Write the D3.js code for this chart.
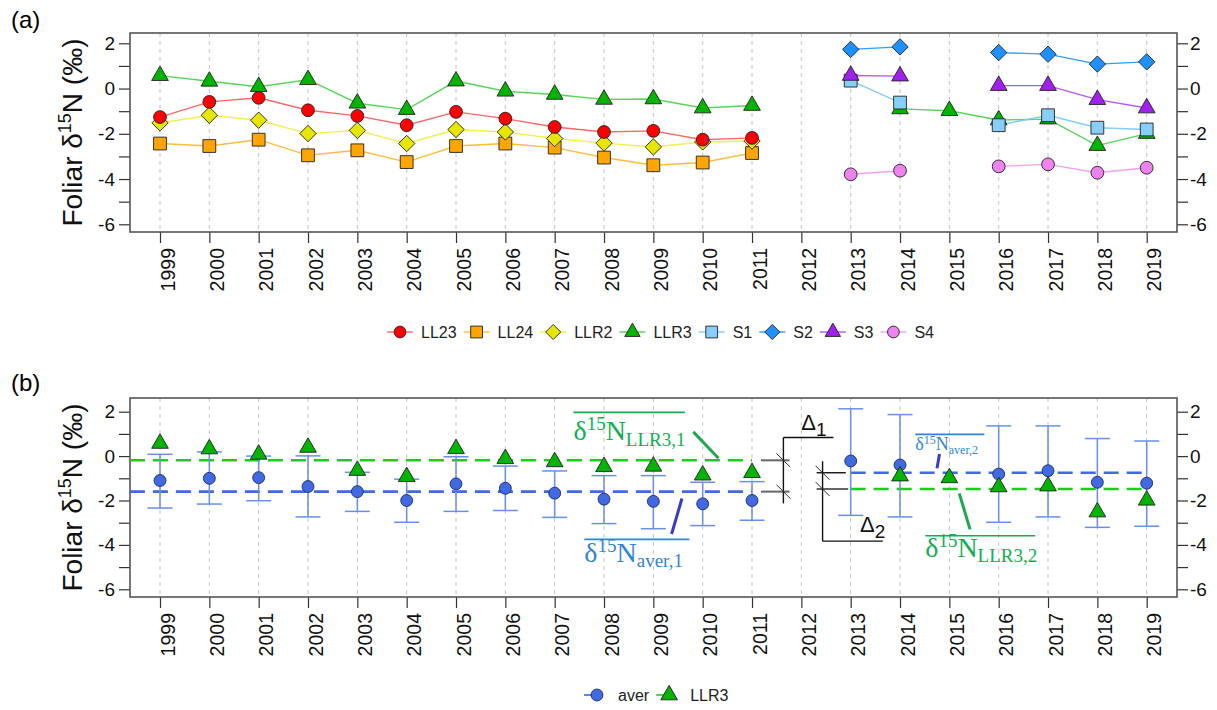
<!DOCTYPE html>
<html>
<head>
<meta charset="utf-8">
<script src="https://cdn.jsdelivr.net/npm/d3@7/dist/d3.min.js"></script>
<style>
  html, body { margin: 0; padding: 0; background: #fff; }
  svg { display: block; font-family: "Liberation Sans", Arial, sans-serif; }
</style>
</head>
<body>
<svg id="chart" width="1217" height="710"></svg>
<script>
// ---------------- DATA ----------------
const years = [1999,2000,2001,2002,2003,2004,2005,2006,2007,2008,2009,2010,2011,2012,2013,2014,2015,2016,2017,2018,2019];
const yTicksLabelled = [2, 0, -2, -4, -6];
const yTicksAll = [2, 1, 0, -1, -2, -3, -4, -5, -6];

const LL23 = [-1.26,-0.59,-0.41,-0.96,-1.21,-1.62,-1.03,-1.33,-1.70,-1.92,-1.87,-2.26,-2.18,null,null,null,null,null,null,null,null];
const LL24 = [-2.43,-2.54,-2.26,-2.95,-2.73,-3.25,-2.54,-2.43,-2.61,-3.05,-3.39,-3.27,-2.85,null,null,null,null,null,null,null,null];
const LLR2 = [-1.52,-1.18,-1.40,-1.99,-1.85,-2.43,-1.81,-1.92,-2.21,-2.41,-2.58,-2.36,-2.32,null,null,null,null,null,null,null,null];
const LLR3 = [0.57,0.32,0.08,0.39,-0.65,-0.93,0.33,-0.12,-0.26,-0.48,-0.46,-0.86,-0.75,null,null,-0.90,-0.98,-1.39,-1.35,-2.52,-1.99];
const S1   = [null,null,null,null,null,null,null,null,null,null,null,null,null,null,0.35,-0.62,null,-1.62,-1.18,-1.73,-1.81];
const S2   = [null,null,null,null,null,null,null,null,null,null,null,null,null,null,1.73,1.84,null,1.59,1.52,1.08,1.18];
const S3   = [null,null,null,null,null,null,null,null,null,null,null,null,null,null,0.58,0.55,null,0.13,0.13,-0.49,-0.86];
const S4   = [null,null,null,null,null,null,null,null,null,null,null,null,null,null,-3.79,-3.63,null,-3.44,-3.35,-3.72,-3.50];

const aver   = [-1.10,-1.00,-0.97,-1.37,-1.60,-2.00,-1.25,-1.45,-1.67,-1.94,-2.04,-2.15,-2.00,null,-0.22,-0.40,null,-0.81,-0.66,-1.18,-1.22];
const averHi = [0.08,0.19,0.00,0.01,-0.73,-1.04,-0.03,-0.45,-0.67,-0.88,-0.88,-1.18,-1.15,null,2.13,1.87,null,1.36,1.36,0.79,0.68];
const averLo = [-2.34,-2.16,-2.01,-2.74,-2.49,-2.98,-2.49,-2.45,-2.76,-3.04,-3.27,-3.13,-2.89,null,-2.67,-2.74,null,-2.98,-2.74,-3.21,-3.16];

// period means: [name, startYear, endYear, value]
const meanNames  = ["LLR3,1", "aver,1", "aver,2", "LLR3,2"];
const meanStart  = [1998.39, 1998.39, 2013, 2013];
const meanEnd    = [2011, 2011, 2019, 2019];
const meanValues = [-0.19, -1.60, -0.75, -1.48];

// ---------------- STYLE / LAYOUT ----------------
const seriesA = [
  {name:"LL24", data:LL24, fill:"#FFA500", line:"rgba(255,165,0,0.75)", shape:"square"},
  {name:"LLR2", data:LLR2, fill:"#E6E600", line:"rgba(235,235,0,0.7)", shape:"diamond"},
  {name:"LL23", data:LL23, fill:"#FF0000", line:"rgba(255,40,40,0.7)", shape:"circle"},
  {name:"LLR3", data:LLR3, fill:"#00B400", line:"rgba(30,200,30,0.75)", shape:"triangle"},
  {name:"S4",   data:S4,   fill:"#EE82EE", line:"rgba(238,130,238,0.75)", shape:"circle"},
  {name:"S2",   data:S2,   fill:"#1E90FF", line:"rgba(30,144,255,0.9)", shape:"diamond"},
  {name:"S1",   data:S1,   fill:"#87CEFA", line:"rgba(120,200,250,0.9)", shape:"square"},
  {name:"S3",   data:S3,   fill:"#A020F0", line:"rgba(160,32,240,0.75)", shape:"triangle"}
];
const legendOrderA = ["LL23","LL24","LLR2","LLR3","S1","S2","S3","S4"];

const svg = d3.select("#chart");
const FONT = '"Liberation Sans", Arial, sans-serif';
const SERIF = '"Liberation Serif", "DejaVu Serif", serif';

function shapePath(shape, s) {
  s = s || 1;
  if (shape === "circle") { const r = 6.4*s; return `M${-r},0A${r},${r} 0 1,0 ${r},0A${r},${r} 0 1,0 ${-r},0Z`; }
  if (shape === "square") { const h = 6.4*s; return `M${-h},${-h}H${h}V${h}H${-h}Z`; }
  if (shape === "diamond") { const h = 8.2*s; return `M0,${-h}L${h},0L0,${h}L${-h},0Z`; }
  if (shape === "triangle") { const R = 6.2*s; return `M0,${-1.555*R}L${1.347*R},${0.778*R}L${-1.347*R},${0.778*R}Z`; }
}

function makePanel(top, bottom, tick2y, tickm6y) {
  const x = d3.scaleLinear().domain([1999, 2019]).range([160, 1146.7]);
  const y = d3.scaleLinear().domain([-6, 2]).range([tickm6y, tick2y]);
  const left = 130, right = 1177;
  const g = svg.append("g");
  // grid
  g.selectAll(".grid").data(years).enter().append("line")
    .attr("x1", d => x(d)).attr("x2", d => x(d)).attr("y1", top).attr("y2", bottom)
    .attr("stroke", "#C4C4C4").attr("stroke-width", 1).attr("stroke-dasharray", "4,4");
  // bottom axis
  const xa = g.append("g").attr("transform", `translate(0,${bottom})`)
    .call(d3.axisBottom(x).tickValues(years).tickFormat(d3.format("d")).tickSize(11).tickSizeOuter(0));
  xa.select(".domain").remove();
  xa.selectAll(".tick line").attr("stroke", "#333").attr("stroke-width", 1.2);
  xa.selectAll(".tick text").attr("font-size", 19.5).attr("font-family", FONT).attr("fill", "#111")
    .attr("text-anchor", "end").attr("dy", null).attr("y", null)
    .attr("transform", "translate(14,16) rotate(-90)");
  // left axis
  const ya = g.append("g").attr("transform", `translate(${left},0)`)
    .call(d3.axisLeft(y).tickValues(yTicksAll).tickSize(11).tickSizeOuter(0)
      .tickFormat(d => yTicksLabelled.includes(d) ? String(d) : ""));
  ya.select(".domain").remove();
  ya.selectAll(".tick line").attr("stroke", "#333").attr("stroke-width", 1.2);
  ya.selectAll(".tick text").attr("font-size", 19).attr("font-family", FONT).attr("fill", "#111").attr("x", -15);
  // right axis
  const yr = g.append("g").attr("transform", `translate(${right},0)`)
    .call(d3.axisRight(y).tickValues(yTicksAll).tickSize(11).tickSizeOuter(0)
      .tickFormat(d => yTicksLabelled.includes(d) ? String(d) : ""));
  yr.select(".domain").remove();
  yr.selectAll(".tick line").attr("stroke", "#333").attr("stroke-width", 1.2);
  yr.selectAll(".tick text").attr("font-size", 19).attr("font-family", FONT).attr("fill", "#111").attr("x", 13);
  // box
  g.append("rect").attr("x", left).attr("y", top).attr("width", right-left).attr("height", bottom-top)
    .attr("fill", "none").attr("stroke", "#555").attr("stroke-width", 1.6);
  // y title
  const cy = (top + bottom) / 2;
  const t = g.append("text").attr("transform", `translate(82,${cy}) rotate(-90)`)
    .attr("text-anchor", "middle").attr("font-size", 28).attr("font-family", FONT).attr("fill", "#111");
  t.append("tspan").text("Foliar \u03B4");
  t.append("tspan").attr("font-size", 18).attr("dy", -11).text("15");
  t.append("tspan").attr("dy", 11).text("N (\u2030)");
  return {x, y, g};
}

// ---------------- PANEL A ----------------
const A = makePanel(33, 232, 43.3, 224.3);
svg.append("text").attr("x", 11).attr("y", 28).attr("font-size", 24).attr("font-family", FONT).text("(a)");

seriesA.forEach(s => {
  const pts = years.map((yr, i) => ({yr, v: s.data[i]}));
  const line = d3.line().defined(d => d.v !== null).x(d => A.x(d.yr)).y(d => A.y(d.v));
  A.g.append("path").attr("d", line(pts)).attr("fill", "none").attr("stroke", s.line).attr("stroke-width", 1.4);
});
seriesA.forEach(s => {
  const pts = years.map((yr, i) => ({yr, v: s.data[i]})).filter(d => d.v !== null);
  A.g.selectAll(null).data(pts).enter().append("path")
    .attr("d", shapePath(s.shape))
    .attr("transform", d => `translate(${A.x(d.yr)},${A.y(d.v)})`)
    .attr("fill", s.fill).attr("stroke", "#222").attr("stroke-width", 0.9);
});

// legend A
(function() {
  const lg = svg.append("g");
  let cx = 400; const ly = 332;
  legendOrderA.forEach(name => {
    const s = seriesA.find(q => q.name === name);
    lg.append("line").attr("x1", cx-13).attr("x2", cx+13).attr("y1", ly).attr("y2", ly)
      .attr("stroke", s.line).attr("stroke-width", 1.4);
    lg.append("path").attr("d", shapePath(s.shape, 0.92)).attr("transform", `translate(${cx},${ly})`)
      .attr("fill", s.fill).attr("stroke", "#222").attr("stroke-width", 0.9);
    const tx = lg.append("text").attr("x", cx+21).attr("y", ly+6).attr("font-size", 16)
      .attr("font-family", FONT).attr("fill", "#222").text(name);
    cx = cx + 21 + tx.node().getComputedTextLength() + 20;
  });
})();

// ---------------- PANEL B ----------------
const B = makePanel(398, 597, 411.7, 589.3);
svg.append("text").attr("x", 11).attr("y", 391).attr("font-size", 24).attr("font-family", FONT).text("(b)");

const averPts = years.map((yr, i) => ({yr, v: aver[i], hi: averHi[i], lo: averLo[i]})).filter(d => d.v !== null);
const llr3Pts = years.map((yr, i) => ({yr, v: LLR3[i]})).filter(d => d.v !== null);

// mean dashed lines
const meanColors = ["#1ECC1E", "#4169E1", "#4169E1", "#1ECC1E"];
meanNames.forEach((n, i) => {
  B.g.append("line").attr("x1", B.x(meanStart[i])).attr("x2", B.x(meanEnd[i]))
    .attr("y1", B.y(meanValues[i])).attr("y2", B.y(meanValues[i]))
    .attr("stroke", meanColors[i]).attr("stroke-width", 2.6).attr("stroke-dasharray", "15,8");
});

// error bars
const ebColor = "#6A8FEA";
averPts.forEach(d => {
  const xx = B.x(d.yr);
  B.g.append("line").attr("x1", xx).attr("x2", xx).attr("y1", B.y(d.hi)).attr("y2", B.y(d.lo))
    .attr("stroke", ebColor).attr("stroke-width", 1.5);
  [d.hi, d.lo].forEach(v => {
    B.g.append("line").attr("x1", xx-12.5).attr("x2", xx+12.5).attr("y1", B.y(v)).attr("y2", B.y(v))
      .attr("stroke", ebColor).attr("stroke-width", 1.5);
  });
});
B.g.selectAll(null).data(averPts).enter().append("path")
  .attr("d", shapePath("circle", 0.93)).attr("transform", d => `translate(${B.x(d.yr)},${B.y(d.v)})`)
  .attr("fill", "#4169E1").attr("stroke", "#1a2a6a").attr("stroke-width", 0.9);
B.g.selectAll(null).data(llr3Pts).enter().append("path")
  .attr("d", shapePath("triangle")).attr("transform", d => `translate(${B.x(d.yr)},${B.y(d.v)})`)
  .attr("fill", "#00B400").attr("stroke", "#222").attr("stroke-width", 0.9);

// ---------- annotations (in data units) ----------
const ann = B.g.append("g");
function L(x1, v1, x2, v2, col, w) {
  ann.append("line").attr("x1", B.x(x1)).attr("y1", B.y(v1)).attr("x2", B.x(x2)).attr("y2", B.y(v2))
    .attr("stroke", col).attr("stroke-width", w);
}
function slash(xv, v) {
  const px = B.x(xv), py = B.y(v);
  ann.append("line").attr("x1", px-7).attr("y1", py-7).attr("x2", px+7).attr("y2", py+7)
    .attr("stroke", "#333").attr("stroke-width", 1);
}
// Delta 1 bracket
L(2011.18, meanValues[0], 2011.76, meanValues[0], "#666", 2);
L(2011.18, meanValues[1], 2011.76, meanValues[1], "#666", 2);
L(2011.636, 0.84, 2011.636, -2.13, "#111", 1.4);
L(2011.636, 0.84, 2012.65, 0.84, "#111", 1.4);
slash(2011.636, meanValues[0]); slash(2011.636, meanValues[1]);
// Delta 2 bracket
L(2012.31, meanValues[2], 2012.90, meanValues[2], "#111", 1.4);
L(2012.31, meanValues[3], 2012.95, meanValues[3], "#666", 2);
L(2012.43, -0.23, 2012.43, -3.83, "#111", 1.4);
L(2012.43, -3.83, 2013.65, -3.83, "#111", 1.4);
slash(2012.43, meanValues[2]); slash(2012.43, meanValues[3]);

function delta(xv, v, sub) {
  const t = ann.append("text").attr("x", B.x(xv)).attr("y", B.y(v)).attr("font-size", 22)
    .attr("font-family", FONT).attr("fill", "#111");
  t.append("tspan").text("\u0394");
  t.append("tspan").attr("font-size", 19).attr("dy", 6).text(sub);
}
delta(2012.0, 1.17, "1");
delta(2013.19, -3.41, "2");

function meanLabel(xv, v, overV, overEnd, sub, col, fs, fss) {
  const t = ann.append("text").attr("x", B.x(xv)).attr("y", B.y(v)).attr("font-size", fs)
    .attr("font-family", SERIF).attr("fill", col);
  t.append("tspan").text("\u03B4");
  t.append("tspan").attr("font-size", fss).attr("dy", -fs*0.36).text("15");
  t.append("tspan").attr("dy", fs*0.36).text("N");
  t.append("tspan").attr("font-size", fss).attr("dy", fs*0.2).text(sub);
  ann.append("line").attr("x1", B.x(xv)).attr("x2", B.x(overEnd)).attr("y1", B.y(overV)).attr("y2", B.y(overV))
    .attr("stroke", col).attr("stroke-width", 1.6);
}
const greenTxt = "#10B050", blueTxt = "#2F86D4";
meanLabel(2007.38, 0.72, 1.97, 2009.64, "LLR3,1", greenTxt, 28, 19);
meanLabel(2007.60, -4.76, -3.75, 2009.73, "aver,1", blueTxt, 28, 19);
meanLabel(2014.31, 0.27, 0.98, 2015.71, "aver,2", blueTxt, 18, 12);
meanLabel(2014.51, -4.54, -3.59, 2016.74, "LLR3,2", greenTxt, 28, 19);

// pointer strokes
L(2009.81, 1.09, 2010.32, -0.10, "#20A850", 3);
L(2009.58, -1.91, 2009.37, -3.51, "#3A3ACC", 3);
L(2014.80, 0.09, 2014.75, -0.55, "#3A3ACC", 3);
L(2015.20, -1.68, 2015.42, -3.30, "#20A850", 3);

// legend B
(function() {
  const lg = svg.append("g");
  const ly = 695;
  const items = [
    {name:"aver", shape:"circle", fill:"#4169E1", line:"#4169E1", s:0.93, stroke:"#1a2a6a"},
    {name:"LLR3", shape:"triangle", fill:"#00B400", line:"#1ECC1E", s:1, stroke:"#222"}
  ];
  let cx = 597;
  items.forEach(it => {
    lg.append("line").attr("x1", cx-13).attr("x2", cx).attr("y1", ly).attr("y2", ly)
      .attr("stroke", it.line).attr("stroke-width", 1.6);
    lg.append("path").attr("d", shapePath(it.shape, it.s)).attr("transform", `translate(${cx},${ly})`)
      .attr("fill", it.fill).attr("stroke", it.stroke).attr("stroke-width", 0.9);
    const tx = lg.append("text").attr("x", cx+21).attr("y", ly+6).attr("font-size", 16)
      .attr("font-family", FONT).attr("fill", "#222").text(it.name);
    cx = cx + 21 + tx.node().getComputedTextLength() + 20;
  });
})();
</script>
</body>
</html>
